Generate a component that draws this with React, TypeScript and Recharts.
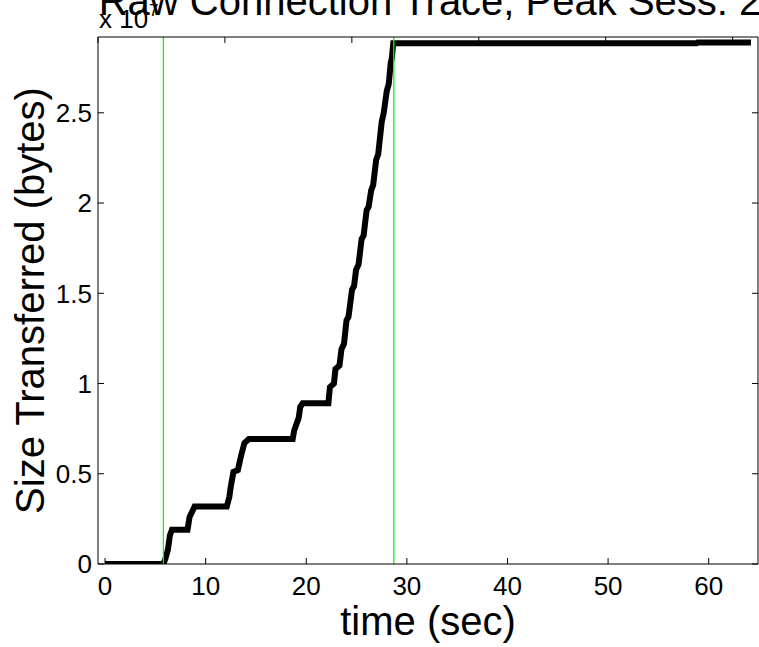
import { LineChart, Line, XAxis, YAxis, ReferenceLine } from "recharts";

const FONT = '"Liberation Sans", Arial, Helvetica, sans-serif';
const GREEN = "#00ff00";

// time (sec) vs cumulative bytes (x 10^7)
const TIME = [
  0, 5.8, 6.0, 6.25, 6.45, 6.65, 8.2, 8.4, 8.9, 12.1, 12.35, 12.5, 12.76, 13.2, 13.5,
  13.85, 14.3, 18.65, 18.8, 19.25, 19.4, 19.65, 22.2, 22.35, 22.75, 22.9, 23.3, 23.5,
  23.75, 24.0, 24.2, 24.55, 24.75, 24.95, 25.2, 25.5, 25.7, 26.0, 26.2, 26.45, 26.65,
  26.95, 27.15, 27.5, 27.7, 28.0, 28.2, 28.4, 28.5, 28.65, 58.8, 58.9, 64.2,
];
const SIZE = [
  0, 0, 0.03, 0.08, 0.16, 0.19, 0.19, 0.26, 0.318, 0.318, 0.37, 0.43, 0.51, 0.52, 0.595,
  0.67, 0.693, 0.693, 0.74, 0.81, 0.87, 0.89, 0.89, 0.98, 1.0, 1.08, 1.1, 1.19,
  1.22, 1.35, 1.37, 1.52, 1.54, 1.63, 1.66, 1.8, 1.82, 1.96, 1.98, 2.07, 2.1,
  2.24, 2.27, 2.45, 2.5, 2.62, 2.66, 2.78, 2.8, 2.886, 2.886, 2.89, 2.89,
];
const MARKERS = [5.8, 28.7];
const X_TICKS = [0, 10, 20, 30, 40, 50, 60];
const Y_TICKS = [0, 0.5, 1, 1.5, 2, 2.5];
const X_DOMAIN: [number, number] = [-0.7, 64.9];
const Y_DOMAIN: [number, number] = [0, 2.92];

const data = TIME.map((t, i) => ({ t, size: SIZE[i] }));

const TICK = { fontSize: 26, fill: "#000", fontFamily: FONT } as const;

export default function App() {
  return (
    <div style={{ position: "absolute", left: 0, top: 0, width: 759, height: 647, background: "#fff" }}>
      <LineChart width={759} height={647} data={data} margin={{ top: 0, right: 0, bottom: 0, left: 0 }}>
        {/* bottom axis with labels, ticks pointing inward */}
        <XAxis xAxisId="b" type="number" dataKey="t" domain={X_DOMAIN} ticks={X_TICKS}
          allowDataOverflow orientation="bottom" height={83} interval={0}
          tickSize={-6} tickMargin={19} tick={TICK} stroke="#000"
          label={({ viewBox }: any) => (
            <text x={viewBox.x + viewBox.width / 2} y={viewBox.y + 71} textAnchor="middle"
              fontSize={40} fontFamily={FONT} fill="#000">time (sec)</text>
          )} />
        {/* top box edge + title */}
        <XAxis xAxisId="t" type="number" domain={X_DOMAIN} ticks={X_TICKS}
          allowDataOverflow orientation="top" height={37} interval={0}
          tickSize={-6} tickFormatter={() => ""} stroke="#000"
          label={({ viewBox }: any) => (
            <g fontFamily={FONT} fill="#000">
              <text x={viewBox.x + 1} y={28} fontSize={26}>x 10</text>
              <text x={viewBox.x + 51} y={16} fontSize={17}>7</text>
              <text x={viewBox.x + viewBox.width / 2 + 2} y={15} textAnchor="middle" fontSize={40}>
                Raw Connection Trace, Peak Sess: 2
              </text>
            </g>
          )} />
        <YAxis yAxisId="l" type="number" domain={Y_DOMAIN} ticks={Y_TICKS}
          allowDataOverflow orientation="left" width={98} interval={0}
          tickSize={-6} tickMargin={12} tick={TICK} stroke="#000"
          label={({ viewBox }: any) => {
            const cy = viewBox.y + viewBox.height / 2;
            return (
              <text x={44} y={cy} transform={`rotate(-90 44 ${cy})`} textAnchor="middle"
                fontSize={40} fontFamily={FONT} fill="#000">Size Transferred (bytes)</text>
            );
          }} />
        <YAxis yAxisId="r" type="number" domain={Y_DOMAIN} ticks={Y_TICKS}
          allowDataOverflow orientation="right" width={1} interval={0}
          tickSize={-6} tickFormatter={() => ""} stroke="#000" />
        <Line xAxisId="b" yAxisId="l" type="linear" dataKey="size" stroke="#000"
          strokeWidth={6} dot={false} activeDot={false} isAnimationActive={false} />
        {MARKERS.map((m) => (
          <ReferenceLine key={m} xAxisId="b" yAxisId="l" x={m} stroke={GREEN} strokeWidth={1.3} />
        ))}
      </LineChart>
    </div>
  );
}
